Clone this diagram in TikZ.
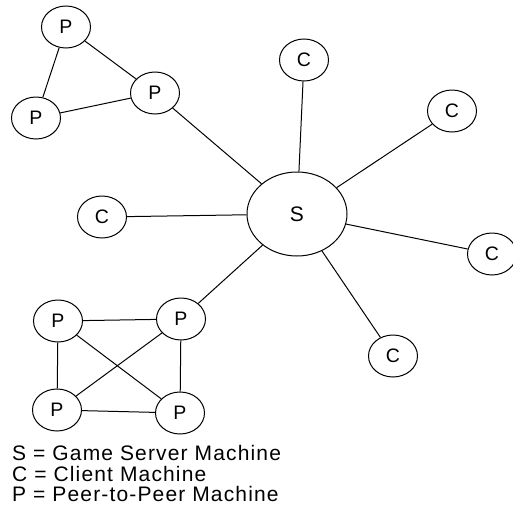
\documentclass[tikz,border=0pt]{standalone}
\usepackage{fontspec}
\setmainfont{Liberation Sans}
\newfontfamily\legendfont[LetterSpace=5.5]{Liberation Sans}
\usetikzlibrary{shapes.geometric}
\begin{document}
\begin{tikzpicture}[x=1pt,y=-1pt,
  machine/.style={draw=black,line width=1pt,ellipse,inner sep=0pt,minimum width=49pt,minimum height=42pt,font=\fontsize{19.5}{19.5}\selectfont},
  server/.style={machine,minimum width=100pt,minimum height=84pt,font=\fontsize{21}{21}\selectfont},
  link/.style={draw=black,line width=1pt},
  legend/.style={anchor=base west,inner sep=0pt,font=\legendfont\fontsize{21}{21}\selectfont}]
\useasboundingbox (0,0) rectangle (512,525);
% server
\node[server] (S) at (297,214) {S};
% clients
\node[machine] (c1) at (304,60) {C};
\node[machine] (c2) at (452,111) {C};
\node[machine] (c3) at (102,217) {C};
\node[machine] (c4) at (492,254) {C};
\node[machine] (c5) at (393,356) {C};
% top peer group
\node[machine] (p1) at (66,27) {P};
\node[machine] (p2) at (36,118) {P};
\node[machine] (p3) at (155,93) {P};
% bottom peer group
\node[machine] (q1) at (58,321) {P};
\node[machine] (q2) at (181,319) {P};
\node[machine] (q3) at (57,410) {P};
\node[machine] (q4) at (180,413) {P};
% links
\draw[link] (S) -- (c1);
\draw[link] (S) -- (c2);
\draw[link] (S) -- (c3);
\draw[link] (S) -- (c4);
\draw[link] (S) -- (c5);
\draw[link] (S) -- (p3);
\draw[link] (S) -- (q2);
\draw[link] (p1) -- (p2);
\draw[link] (p1) -- (p3);
\draw[link] (p2) -- (p3);
\draw[link] (q1) -- (q2);
\draw[link] (q1) -- (q3);
\draw[link] (q2) -- (q4);
\draw[link] (q3) -- (q4);
\draw[link] (q1) -- (q4);
\draw[link] (q2) -- (q3);
% legend
\node[legend] (l1) at (12,460) {S = Game Server Machine};
\node[legend] (l2) at (12,481) {C = Client Machine};
\node[legend] (l3) at (12,501) {P = Peer-to-Peer Machine};
\end{tikzpicture}
\end{document}
